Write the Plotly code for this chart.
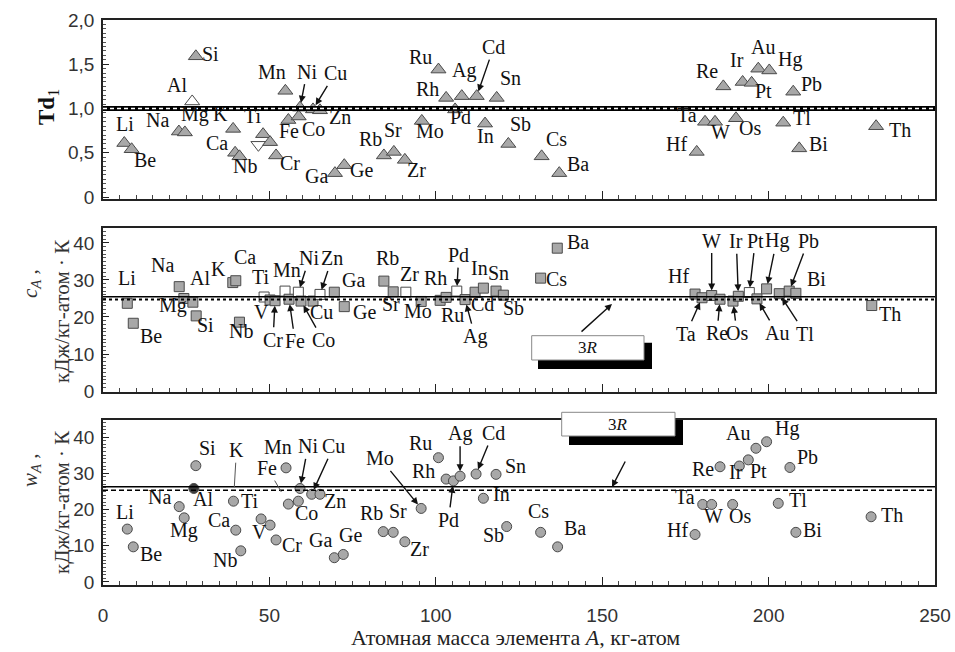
import plotly.graph_objects as go

# ---------------- data: top panel (Td1, triangles) ----------------
TOP_NAMES = ["Li", "Be", "Na", "Mg", "Al", "Si", "K", "Ca", "Nb", "Ti", "Ti'", "V", "Cr",
             "Mn", "Fe", "Co", "Ni", "Cu", "Zn", "Ga", "Ge", "Rb", "Sr", "Zr", "Mo",
             "Ru", "Rh", "Pd", "Ag", "Cd", "In", "Sn", "Sb", "Cs", "Ba",
             "Hf", "Ta", "W", "Re", "Os", "Ir", "Pt", "Au", "Hg", "Tl", "Pb", "Bi", "Th"]
TOP_A = [6.4, 8.6, 22.8, 24.6, 26.8, 27.9, 39.1, 39.7, 41.0, 48.1, 46.7, 50.2, 52.0,
         54.8, 55.7, 58.8, 59.2, 63.1, 65.2, 69.7, 72.5, 84.4, 87.4, 90.7, 95.8,
         100.8, 103.1, 105.8, 107.8, 112.3, 114.8, 118.3, 121.8, 131.8, 137.1,
         178.4, 180.9, 183.9, 186.4, 190.2, 192.2, 194.9, 196.9, 200.2, 204.4, 207.4, 209.2, 232.3]
TOP_TD = [0.61, 0.54, 0.74, 0.73, 1.08, 1.59, 0.77, 0.50, 0.46, 0.71, 0.59, 0.62, 0.47,
          1.20, 0.87, 0.91, 1.01, 0.99, 0.98, 0.27, 0.36, 0.47, 0.51, 0.42, 0.86,
          1.44, 1.12, 0.99, 1.14, 1.14, 0.83, 1.12, 0.60, 0.46, 0.27,
          0.51, 0.85, 0.85, 1.25, 0.89, 1.30, 1.29, 1.45, 1.43, 0.84, 1.19, 0.55, 0.80]

# ---------------- data: middle panel (c_A, squares) ----------------
MID_NAMES = ["Li", "Be", "Na", "Mg", "Al", "Si", "K", "Ca", "Nb", "Ti", "V", "Cr", "Mn",
             "Fe", "Ni", "Co", "Cu", "Zn", "Ga", "Ge", "Rb", "Sr", "Zr", "Mo", "Ru", "Rh",
             "Pd", "Ag", "Cd", "In", "Sn", "Sb", "Cs", "Ba", "Hf", "Ta", "W", "Re", "Os",
             "Ir", "Pt", "Au", "Hg", "Tl", "Pb", "Bi", "Th"]
MID_A = [7.3, 9.1, 22.9, 24.3, 27.0, 28.0, 39.0, 39.9, 41.0, 48.4, 50.2, 51.7, 54.7,
         55.9, 58.7, 59.5, 63.1, 65.2, 69.5, 72.5, 84.4, 87.2, 91.0, 95.6, 101.3, 103.1,
         106.3, 108.8, 111.8, 114.3, 118.1, 120.3, 131.5, 136.5, 177.9, 180.0, 182.9, 185.4, 189.3,
         190.9, 194.2, 196.5, 199.4, 203.2, 206.2, 208.2, 231.0]
MID_C = [23.7, 18.3, 28.2, 25.0, 24.0, 20.3, 29.3, 29.8, 18.6, 25.4, 24.6, 24.4, 27.0,
         24.8, 26.7, 24.3, 24.3, 26.1, 26.7, 22.8, 29.7, 26.8, 26.7, 24.2, 24.5, 25.3,
         27.0, 24.7, 26.7, 27.8, 27.0, 25.9, 30.5, 38.6, 26.2, 25.2, 25.8, 24.8, 24.3,
         25.6, 26.6, 24.9, 27.6, 26.3, 27.0, 26.4, 23.1]

# ---------------- data: bottom panel (w_A, circles) ----------------
BOT_NAMES = ["Li", "Be", "Na", "Mg", "Al", "Si", "K", "Ca", "Nb", "Ti", "V", "Cr", "Mn",
             "Fe", "Co", "Ni", "Cu", "Zn", "Ga", "Ge", "Rb", "Sr", "Zr", "Mo", "Ru", "Rh",
             "Pd", "Ag", "Cd", "In", "Sn", "Sb", "Cs", "Ba", "Hf", "Ta", "W", "Re", "Os",
             "Ir", "Pt", "Au", "Hg", "Tl", "Pb", "Bi", "Th"]
BOT_A = [7.3, 9.1, 22.9, 24.4, 27.3, 27.9, 39.2, 39.9, 41.4, 47.5, 50.2, 52.0, 55.0,
         55.7, 58.7, 59.2, 62.7, 65.2, 69.5, 72.2, 84.2, 87.2, 90.7, 95.6, 100.8, 103.1,
         105.3, 107.3, 112.1, 114.3, 118.1, 121.3, 131.5, 136.6, 177.9, 180.2, 182.9, 185.4, 189.2,
         191.2, 193.9, 196.2, 199.4, 202.9, 206.4, 208.2, 230.8]
BOT_W = [14.6, 9.7, 20.8, 17.7, 25.8, 32.1, 22.3, 14.3, 8.6, 17.4, 15.7, 11.6, 31.5,
         21.5, 22.3, 25.8, 24.2, 24.2, 6.7, 7.6, 13.9, 13.7, 11.1, 20.3, 34.3, 28.4,
         27.9, 29.2, 29.8, 23.1, 29.7, 15.3, 13.7, 9.7, 13.1, 21.4, 21.4, 31.8, 21.4,
         32.0, 33.7, 36.9, 38.7, 21.7, 31.6, 13.7, 18.0]

# reference levels (3R lines)
TOP_REF = 1.0
MID_REF = [25.5, 24.7]
BOT_REF = [26.3, 25.3]

# axis ticks
X_TICKS = [0, 50, 100, 150, 200, 250]
TOP_TICKS = [0, 0.5, 1.0, 1.5, 2.0]
TOP_TICKTEXT = ["0", "0,5", "1,0", "1,5", "2,0"]
CW_TICKS = [0, 10, 20, 30, 40]

for a, b in [(TOP_NAMES, TOP_A), (TOP_NAMES, TOP_TD), (MID_NAMES, MID_A), (MID_NAMES, MID_C),
             (BOT_NAMES, BOT_A), (BOT_NAMES, BOT_W)]:
    assert len(a) == len(b)

# ---------------- label placement (pixel offsets: dx right, dy up) ----------------
TOP_LABELS = {
    "Li": (1, 19), "Be": (13, -11), "Na": (-21, 12), "Mg": (10, 18), "Al": (-15, 16), "Si": (15, 2),
    "K": (-13, 15), "Ca": (-18, 10), "Nb": (6, -10), "Ti": (-10, 18), "Cr": (14, -8), "Mn": (-13, 19),
    "Fe": (1, -11), "Co": (15, -13), "Zn": (20, -7), "Ga": (-18, -3), "Ge": (17, -5),
    "Rb": (-13, 16), "Sr": (-1, 22), "Zr": (12, -10), "Mo": (8, -10), "Ru": (-18, 13), "Rh": (-19, 9),
    "Pd": (5, -8), "Ag": (2, 26), "In": (0, -12), "Sn": (14, 20), "Sb": (12, 20), "Cs": (15, 17),
    "Ba": (19, 9), "Hf": (-20, 8), "Ta": (-18, 7), "W": (5, -10), "Re": (-16, 15), "Os": (14, -10),
    "Ir": (-6, 22), "Pt": (12, -8), "Au": (5, 22), "Hg": (21, 11), "Tl": (19, 5), "Pb": (18, 8),
    "Bi": (19, 4), "Th": (24, -4),
}
TOP_ARROWS = {"Ni": (7, 36), "Cu": (22, 36), "Cd": (17, 49)}

MID_LABELS = {
    "Li": (0, 25), "Be": (18, -13), "Na": (-17, 22), "Mg": (-11, -7), "Al": (7, 24), "Si": (9, -9),
    "K": (-14, 14), "Ca": (9, 24), "Nb": (2, -9), "Ti": (-3, 20), "V": (-9, -12), "Mn": (2, 21),
    "Cu": (8, -11), "Ga": (19, 12), "Ge": (20, -5), "Rb": (4, 23), "Sr": (-2, -12), "Zr": (4, 18),
    "Mo": (-3, -10), "Rh": (-11, 19), "Ru": (12, -15), "Cd": (7, -12), "In": (-4, 20), "Sn": (2, 18),
    "Sb": (10, -13), "Cs": (16, -1), "Ba": (21, 6), "Hf": (-17, 18), "Bi": (21, 14), "Th": (18, -8),
}
MID_ARROWS = {
    "Ni": (11, 34), "Zn": (12, 36), "Cr": (-2, -39), "Fe": (6, -42), "Co": (22, -39),
    "Pd": (2, 36), "Ag": (10, -37), "W": (0, 55), "Ir": (-2, 55), "Pt": (6, 52), "Hg": (10, 48),
    "Pb": (19, 50), "Ta": (-16, -36), "Re": (-3, -34), "Os": (4, -32), "Au": (20, -34), "Tl": (26, -40),
}

BOT_LABELS = {
    "Li": (-2, 17), "Be": (18, -7), "Na": (-20, 10), "Mg": (0, -13), "Al": (9, -11), "Si": (12, 18),
    "Ti": (-11, 18), "Ca": (-17, 10), "Nb": (-16, -9), "V": (-11, -7), "Cr": (16, -5), "Mn": (-8, 21),
    "Co": (8, -12), "Zn": (15, -7), "Ga": (-14, 18), "Ge": (7, 19), "Rb": (-12, 19), "Sr": (5, 21),
    "Zr": (15, -7), "Ru": (-18, 15), "Rh": (-23, 8), "Sn": (19, 8), "In": (18, 4), "Sb": (-13, -8),
    "Cs": (-2, 21), "Ba": (17, 19), "Hf": (-18, 5), "Ta": (-18, 7), "W": (2, -12), "Os": (7, -12),
    "Re": (-17, -2), "Ir": (-3, -6), "Pt": (10, -11), "Au": (-18, 15), "Hg": (20, 13), "Pb": (18, 10),
    "Tl": (20, 3), "Bi": (17, 2), "Th": (21, 2),
}
BOT_ARROWS = {"Ni": (8, 42), "Cu": (22, 48), "Mo": (-41, 50), "Pd": (-5, -39), "Ag": (0, 43),
              "Cd": (17, 41)}
BOT_LINES = {"Fe": (-21, 36), "K": (3, 51)}

TOP_OPEN = {"Al", "Ti'"}
TOP_SYMBOL = {"Ti'": "triangle-down"}
MID_OPEN = {"Ti", "Mn", "Ni", "Zn", "Zr", "Pd", "Pt"}
BOT_DARK = {"Al"}

# ---------------- geometry ----------------
W, H = 955, 652
ML, MR, MT, MB = 103, 20, 20, 67
PW, PH = W - ML - MR, H - MT - MB


def px(X):
    return (X - ML) / PW


def py(Y):
    return (H - MB - Y) / PH


SERIF = "Liberation Serif, Times New Roman, serif"
SANS = "Liberation Sans, Arial, sans-serif"
FILL = "#a8a8a8"
EDGE = "#4a4a4a"
LBL_SIZE = 20

fig = go.Figure()


def marker_colors(names, open_set=(), dark_set=()):
    out = []
    for n in names:
        if n in open_set:
            out.append("white")
        elif n in dark_set:
            out.append("#3c3c3c")
        else:
            out.append(FILL)
    return out


fig.add_trace(go.Scatter(
    x=TOP_A, y=TOP_TD, xaxis="x", yaxis="y", mode="markers", text=TOP_NAMES, hoverinfo="text+x+y",
    marker=dict(symbol=[TOP_SYMBOL.get(n, "triangle-up") for n in TOP_NAMES], size=13,
                color=marker_colors(TOP_NAMES, TOP_OPEN), line=dict(color=EDGE, width=1)),
    showlegend=False))
fig.add_trace(go.Scatter(
    x=MID_A, y=MID_C, xaxis="x2", yaxis="y2", mode="markers", text=MID_NAMES, hoverinfo="text+x+y",
    marker=dict(symbol="square", size=10, color=marker_colors(MID_NAMES, MID_OPEN),
                line=dict(color=EDGE, width=1)),
    showlegend=False))
fig.add_trace(go.Scatter(
    x=BOT_A, y=BOT_W, xaxis="x3", yaxis="y3", mode="markers", text=BOT_NAMES, hoverinfo="text+x+y",
    marker=dict(symbol="circle", size=10, color=marker_colors(BOT_NAMES, (), BOT_DARK),
                line=dict(color=EDGE, width=1)),
    showlegend=False))

annotations = []


def add_labels(names, xs, ys, xref, yref, labels, arrows, lines=None):
    for n, xv, yv in zip(names, xs, ys):
        base = dict(x=xv, y=yv, xref=xref, yref=yref, text=n,
                    font=dict(family=SERIF, size=LBL_SIZE, color="#111"))
        if n in labels:
            dx, dy = labels[n]
            annotations.append(dict(base, showarrow=False, xshift=dx, yshift=dy,
                                    xanchor="center", yanchor="middle"))
        elif n in arrows:
            dx, dy = arrows[n]
            annotations.append(dict(base, showarrow=True, ax=dx, ay=-dy, arrowhead=2,
                                    arrowsize=1, arrowwidth=1.4, arrowcolor="#111", standoff=5))
        elif lines and n in lines:
            dx, dy = lines[n]
            annotations.append(dict(base, showarrow=True, ax=dx, ay=-dy, arrowhead=0,
                                    arrowwidth=1, arrowcolor="#555", standoff=14))


add_labels(TOP_NAMES, TOP_A, TOP_TD, "x", "y", TOP_LABELS, TOP_ARROWS)
add_labels(MID_NAMES, MID_A, MID_C, "x2", "y2", MID_LABELS, MID_ARROWS)
add_labels(BOT_NAMES, BOT_A, BOT_W, "x3", "y3", BOT_LABELS, BOT_ARROWS, BOT_LINES)

# ---------------- reference lines ----------------
shapes = [
    dict(type="line", xref="x", yref="y", x0=0, x1=250, y0=TOP_REF, y1=TOP_REF,
         line=dict(color="black", width=5), layer="above"),
    dict(type="line", xref="x", yref="y", x0=0, x1=250, y0=TOP_REF, y1=TOP_REF,
         line=dict(color="white", width=1.6, dash="4px,3px"), layer="above"),
    dict(type="line", xref="x2", yref="y2", x0=0, x1=250, y0=MID_REF[0], y1=MID_REF[0],
         line=dict(color="black", width=1.5), layer="above"),
    dict(type="line", xref="x2", yref="y2", x0=0, x1=250, y0=MID_REF[1], y1=MID_REF[1],
         line=dict(color="black", width=2, dash="3px,3px"), layer="above"),
    dict(type="line", xref="x3", yref="y3", x0=0, x1=250, y0=BOT_REF[0], y1=BOT_REF[0],
         line=dict(color="black", width=1.5), layer="above"),
    dict(type="line", xref="x3", yref="y3", x0=0, x1=250, y0=BOT_REF[1], y1=BOT_REF[1],
         line=dict(color="black", width=1.5, dash="5px,3px"), layer="above"),
]

# "3R" legend boxes (shadow + white box) in paper coordinates
for (bx0, by0, bx1, by1), (sx0, sy0, sx1, sy1) in [
        ((531.7, 335.7, 644, 360), (538, 342.7, 652, 369)),
        ((561.7, 412.3, 675, 436), (569, 420, 683, 445))]:
    shapes.append(dict(type="rect", xref="paper", yref="paper", x0=px(sx0), x1=px(sx1),
                       y0=py(sy1), y1=py(sy0), fillcolor="black", line=dict(width=0), layer="above"))
    shapes.append(dict(type="rect", xref="paper", yref="paper", x0=px(bx0), x1=px(bx1),
                       y0=py(by1), y1=py(by0), fillcolor="white",
                       line=dict(color="#888", width=1), layer="above"))
    annotations.append(dict(xref="paper", yref="paper", x=px((bx0 + bx1) / 2), y=py((by0 + by1) / 2),
                            text="3<i>R</i>", showarrow=False, xanchor="center", yanchor="middle",
                            font=dict(family=SERIF, size=17, color="#111")))

# arrows from 3R boxes to the lines
for (hx, hy), (tx, ty) in [((612, 304), (580, 333)), ((612, 487), (626, 460))]:
    annotations.append(dict(xref="paper", yref="paper", x=px(hx), y=py(hy), text="",
                            showarrow=True, ax=tx - hx, ay=ty - hy, arrowhead=2, arrowsize=1,
                            arrowwidth=1.4, arrowcolor="#111"))

# axis titles
TITLE_COMMON = dict(xref="paper", yref="paper", showarrow=False, xanchor="center", yanchor="middle")
annotations += [
    dict(TITLE_COMMON, x=px(48), y=py(107), text="<b>Td</b><sub>1</sub>", textangle=-90,
         font=dict(family=SERIF, size=23, color="#111")),
    dict(TITLE_COMMON, x=px(31), y=py(284), text="<i>c<sub>A</sub></i> ,", textangle=-90,
         font=dict(family=SERIF, size=21, color="#333")),
    dict(TITLE_COMMON, x=px(62), y=py(311), text="кДж/кг-атом · К", textangle=-90,
         font=dict(family=SERIF, size=21, color="#333")),
    dict(TITLE_COMMON, x=px(31), y=py(470), text="<i>w<sub>A</sub></i> ,", textangle=-90,
         font=dict(family=SERIF, size=21, color="#333")),
    dict(TITLE_COMMON, x=px(62), y=py(502), text="кДж/кг-атом · К", textangle=-90,
         font=dict(family=SERIF, size=21, color="#333")),
    dict(TITLE_COMMON, x=px(515), y=py(637), text="Атомная масса элемента <i>A</i>, кг-атом",
         font=dict(family=SERIF, size=22, color="#222")),
]


def xaxis_cfg(anchor, labels):
    return dict(anchor=anchor, range=[0, 250], tickvals=X_TICKS, showticklabels=labels,
                ticks="inside", ticklen=8, tickwidth=1, tickcolor="#222",
                minor=dict(ticks="inside", dtick=5, ticklen=4, tickcolor="#444", tickwidth=1),
                showline=True, linecolor="#222", linewidth=1.5, mirror=True, automargin=False,
                showgrid=False, zeroline=False, ticklabelstandoff=12,
                tickfont=dict(family=SANS, size=19, color="#333"))


def yaxis_cfg(domain, rng, tickvals, ticktext, minor_dtick):
    return dict(domain=domain, range=rng, tickvals=tickvals, ticktext=ticktext,
                ticks="inside", ticklen=6, tickwidth=1, tickcolor="#222",
                minor=dict(ticks="inside", dtick=minor_dtick, ticklen=3, tickcolor="#555", tickwidth=1),
                showline=True, linecolor="#222", linewidth=1.5, mirror=True, automargin=False,
                showgrid=False, zeroline=False, ticklabelstandoff=3,
                tickfont=dict(family=SANS, size=19, color="#333"))


fig.update_layout(
    width=W, height=H, margin=dict(l=ML, r=MR, t=MT, b=MB, autoexpand=False),
    paper_bgcolor="white", plot_bgcolor="white", showlegend=False,
    xaxis=xaxis_cfg("y", False),
    xaxis2=xaxis_cfg("y2", False),
    xaxis3=xaxis_cfg("y3", True),
    yaxis=yaxis_cfg([py(199), 1.0], [-0.022, 2.0], TOP_TICKS, TOP_TICKTEXT, 0.05),
    yaxis2=yaxis_cfg([py(392), py(228)], [-0.27, 44.05], CW_TICKS, [str(v) for v in CW_TICKS], 1),
    yaxis3=yaxis_cfg([0, py(420)], [-0.83, 44.7], CW_TICKS, [str(v) for v in CW_TICKS], 1),
    shapes=shapes, annotations=annotations,
)

fig.write_html("out.html", config={"displayModeBar": False},
               post_script="document.body.style.margin='0';document.body.style.overflow='hidden';")
